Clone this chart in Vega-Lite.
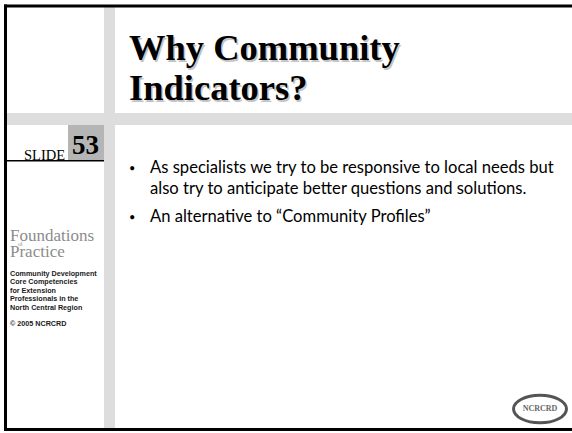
{
  "$schema": "https://vega.github.io/schema/vega-lite/v6.json",
  "width": 572,
  "height": 433,
  "padding": 0,
  "autosize": {"type": "none"},
  "background": "white",
  "config": {"view": {"stroke": null}},
  "encoding": {
    "x": {"field": "x", "type": "quantitative", "scale": {"domain": [0, 572], "nice": false, "zero": false}, "axis": null},
    "y": {"field": "y", "type": "quantitative", "scale": {"domain": [0, 433], "nice": false, "zero": false, "reverse": true}, "axis": null}
  },
  "layer": [
    {
      "data": {"values": [
        {"kind": "band", "x": 104, "x2": 115, "y": 7, "y2": 428},
        {"kind": "band", "x": 7, "x2": 572, "y": 113, "y2": 125},
        {"kind": "box", "x": 68, "x2": 104, "y": 125, "y2": 160},
        {"kind": "border", "x": 4, "x2": 572, "y": 4.5, "y2": 7.5},
        {"kind": "border", "x": 4, "x2": 7, "y": 4.5, "y2": 431},
        {"kind": "border", "x": 4, "x2": 572, "y": 428, "y2": 431},
        {"kind": "border", "x": 7, "x2": 104, "y": 160, "y2": 161.5}
      ]},
      "mark": {"type": "rect"},
      "encoding": {
        "x2": {"field": "x2"},
        "y2": {"field": "y2"},
        "color": {"field": "kind", "type": "nominal", "legend": null,
          "scale": {"domain": ["band", "box", "border"], "range": ["#dddddd", "#b5b5b5", "#000000"]}}
      }
    },
    {
      "data": {"values": [
        {"t": "Why Community", "x": 129, "y": 60},
        {"t": "Indicators?", "x": 129, "y": 100}
      ]},
      "mark": {"type": "text", "font": "Liberation Serif", "fontWeight": "bold", "fontSize": 36.5, "align": "left", "baseline": "alphabetic", "color": "#c4c4c4", "dx": 1.5, "dy": 1.5},
      "encoding": {"text": {"field": "t"}}
    },
    {
      "data": {"values": [
        {"t": "Why Community", "x": 129, "y": 60},
        {"t": "Indicators?", "x": 129, "y": 100}
      ]},
      "mark": {"type": "text", "font": "Liberation Serif", "fontWeight": "bold", "fontSize": 36.5, "align": "left", "baseline": "alphabetic", "color": "#000000"},
      "encoding": {"text": {"field": "t"}}
    },
    {
      "data": {"values": [
        {"t": "SLIDE", "x": 24, "y": 159.5}
      ]},
      "mark": {"type": "text", "font": "Liberation Serif", "fontSize": 14.5, "align": "left", "baseline": "alphabetic", "color": "#000000"},
      "encoding": {"text": {"field": "t"}}
    },
    {
      "data": {"values": [
        {"t": "53", "x": 72, "y": 154}
      ]},
      "mark": {"type": "text", "font": "Liberation Serif", "fontWeight": "bold", "fontSize": 27, "align": "left", "baseline": "alphabetic", "color": "#000000"},
      "encoding": {"text": {"field": "t"}}
    },
    {
      "data": {"values": [
        {"t": "•", "x": 129, "y": 172},
        {"t": "•", "x": 129, "y": 221}
      ]},
      "mark": {"type": "text", "font": "Lato", "fontSize": 11, "align": "left", "baseline": "alphabetic", "color": "#000000"},
      "encoding": {"text": {"field": "t"}}
    },
    {
      "data": {"values": [
        {"t": "As specialists we try to be responsive to local needs but", "x": 150, "y": 173},
        {"t": "also try to anticipate better questions and solutions.", "x": 150, "y": 194},
        {"t": "An alternative to “Community Profiles”", "x": 150, "y": 222}
      ]},
      "mark": {"type": "text", "font": "Lato", "fontSize": 16.6, "align": "left", "baseline": "alphabetic", "color": "#000000"},
      "encoding": {"text": {"field": "t"}}
    },
    {
      "data": {"values": [
        {"t": "Foundations", "x": 10, "y": 241},
        {"t": "Practice", "x": 10, "y": 257}
      ]},
      "mark": {"type": "text", "font": "Liberation Serif", "fontSize": 17, "align": "left", "baseline": "alphabetic", "color": "#8c8c8c"},
      "encoding": {"text": {"field": "t"}}
    },
    {
      "data": {"values": [
        {"t": "of", "x": 18, "y": 246}
      ]},
      "mark": {"type": "text", "font": "Liberation Serif", "fontSize": 5.5, "align": "left", "baseline": "alphabetic", "color": "#8c8c8c"},
      "encoding": {"text": {"field": "t"}}
    },
    {
      "data": {"values": [
        {"t": "Community Development", "x": 10, "y": 275.5},
        {"t": "Core Competencies", "x": 10, "y": 284},
        {"t": "for Extension", "x": 10, "y": 292.5},
        {"t": "Professionals in the", "x": 10, "y": 301},
        {"t": "North Central Region", "x": 10, "y": 309.5},
        {"t": "© 2005 NCRCRD", "x": 10, "y": 326}
      ]},
      "mark": {"type": "text", "font": "Liberation Sans", "fontWeight": "bold", "fontSize": 7.2, "align": "left", "baseline": "alphabetic", "color": "#1a1a1a"},
      "encoding": {"text": {"field": "t"}}
    },
    {
      "data": {"values": [
        {"x": 540, "y": 409}
      ]},
      "mark": {"type": "point", "shape": "M-1,0A1,0.52,0,1,0,1,0A1,0.52,0,1,0,-1,0Z", "size": 2800, "filled": false, "stroke": "#555555", "strokeWidth": 3, "fill": "#ffffff", "opacity": 1, "fillOpacity": 1}
    },
    {
      "data": {"values": [
        {"t": "NCRCRD", "x": 540, "y": 409}
      ]},
      "mark": {"type": "text", "font": "Liberation Serif", "fontWeight": "bold", "fontSize": 8, "align": "center", "baseline": "middle", "color": "#666666"},
      "encoding": {"text": {"field": "t"}}
    }
  ]
}
